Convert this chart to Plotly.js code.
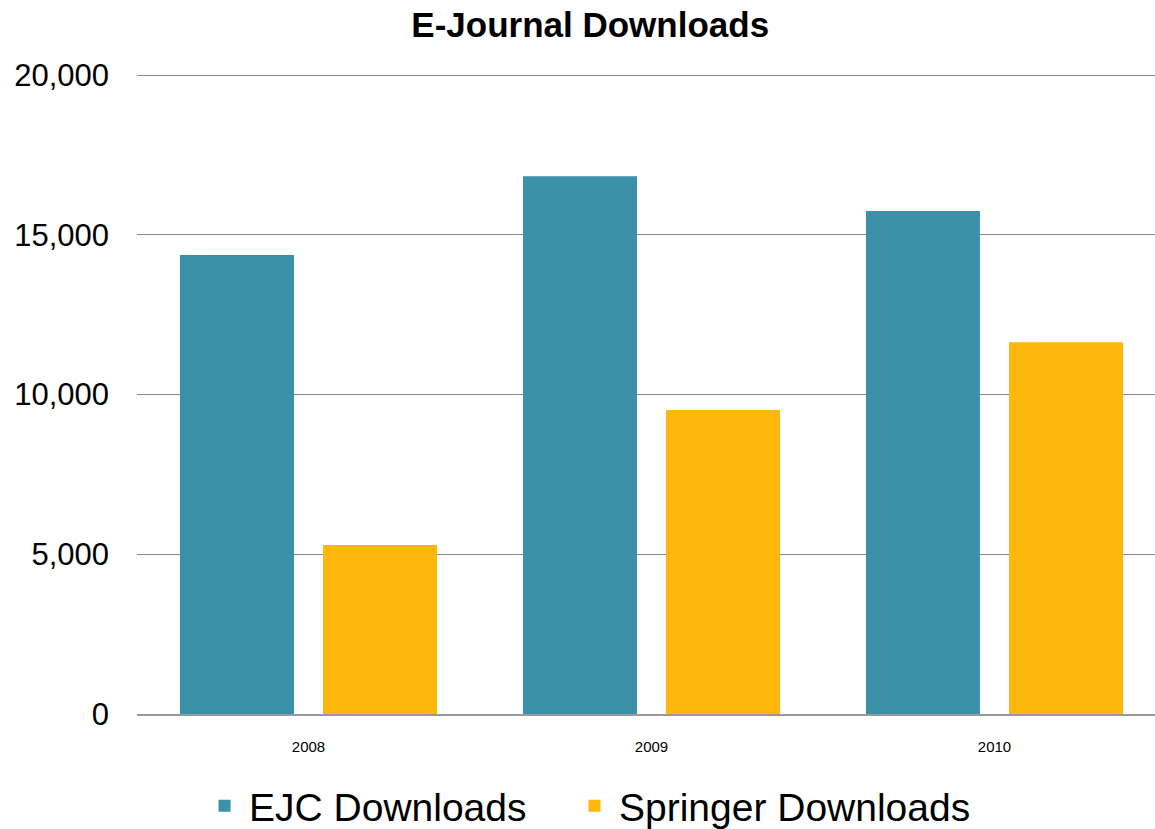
<!DOCTYPE html>
<html><head><meta charset="utf-8">
<script src="https://cdn.plot.ly/plotly-3.0.1.min.js"></script>
<style>html,body{margin:0;padding:0;background:#fff}#c{width:1155px;height:829px}</style>
</head><body><div id="c"></div>
<script>
const years = ['2008', '2009', '2010'];
const ejc = [14370, 16840, 15750];
const springer = [5290, 9520, 11640];
const yTicks = [0, 5000, 10000, 15000, 20000];
const yTickText = ['0', '5,000', '10,000', '15,000', '20,000'];

const data = [
  {type:'bar', name:'EJC Downloads', x:years, y:ejc, marker:{color:'#3A91A8'}, legend:'legend'},
  {type:'bar', name:'Springer Downloads', x:years, y:springer, marker:{color:'#FDB70D'}, legend:'legend2'}
];
const legendBase = {orientation:'h', xanchor:'left', xref:'container', y:0.028, yref:'container', yanchor:'middle', font:{size:39}, itemwidth:39, bgcolor:'rgba(0,0,0,0)'};
const layout = {
  width:1155, height:829,
  margin:{l:137, r:0, t:72, b:115},
  paper_bgcolor:'#fff', plot_bgcolor:'#fff',
  font:{family:'Liberation Sans, Arial, sans-serif', color:'#000'},
  title:{text:'<b>E-Journal Downloads</b>', font:{size:35, color:'#000'}, x:0.511, xanchor:'center', y:0.97, yanchor:'middle'},
  barmode:'group', bargap:0.166, bargroupgap:0.203,
  xaxis:{type:'category', range:[-0.5, 2.468], tickfont:{size:15}, showgrid:false, showline:true, linecolor:'#999', linewidth:2, ticks:'', ticklabelstandoff:18},
  yaxis:{range:[0,20100], tickvals:yTicks, ticktext:yTickText, tickfont:{size:31}, showgrid:true, gridcolor:'#888', gridwidth:1, zeroline:false, showline:false, ticks:'', ticklabelstandoff:27},
  legend:Object.assign({}, legendBase, {x:0.1732}),
  legend2:Object.assign({}, legendBase, {x:0.4935}),
  showlegend:true
};
Plotly.newPlot('c', data, layout, {displayModeBar:false, staticPlot:true});
</script></body></html>
